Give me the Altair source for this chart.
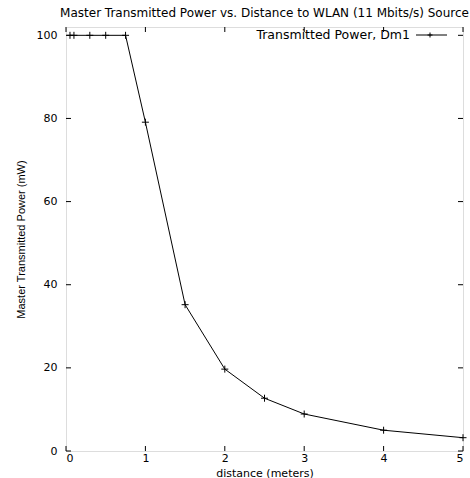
import altair as alt
import pandas as pd

distance = [0.05, 0.1, 0.3, 0.5, 0.75, 1, 1.5, 2, 2.5, 3, 4, 5]
power = [100, 100, 100, 100, 100, 79.1, 35.2, 19.7, 12.7, 8.9, 5.0, 3.2]
x_ticks = [0, 1, 2, 3, 4, 5]
y_ticks = [0, 20, 40, 60, 80, 100]
series_name = ["Transmitted Power, Dm1"]
title_text = "Master Transmitted Power vs. Distance to WLAN (11 Mbits/s) Source"

W, H = 397, 424
FONT = "DejaVu Sans"
FONT2 = "Liberation Sans"
CROSS = "M-1,0L1,0M0,-1L0,1"

df = pd.DataFrame({"distance": distance, "power": power})
xs = alt.Scale(domain=[0, 5], nice=False, zero=False)
ys = alt.Scale(domain=[0, 102], nice=False)

base = alt.Chart(df)

line = base.mark_line(color="black", strokeWidth=1).encode(
    x=alt.X("distance:Q", scale=xs,
            axis=alt.Axis(values=x_ticks, format="d", ticks=False, domain=False, grid=False,
                          labelFont=FONT, labelFontSize=11, labelColor="black",
                          labelPadding=1, title="distance (meters)",
                          titleFont=FONT, titleFontSize=11, titleFontWeight="normal",
                          titleColor="black", titleY=22, titleBaseline="middle")),
    y=alt.Y("power:Q", scale=ys,
            axis=alt.Axis(values=y_ticks, format="d", ticks=False, domain=False, grid=False,
                          labelFont=FONT, labelFontSize=11, labelColor="black",
                          labelPadding=9, title="Master Transmitted Power (mW)",
                          titleFont=FONT2, titleFontSize=11, titleFontWeight="normal",
                          titleColor="black", titlePadding=10)),
)

pts = base.mark_point(shape=CROSS, size=49, color="black", strokeWidth=1, filled=False, opacity=1).encode(
    x=alt.X("distance:Q", scale=xs), y=alt.Y("power:Q", scale=ys)
)

xt = pd.DataFrame({"t": x_ticks})
yt = pd.DataFrame({"t": y_ticks})
TL = 5
tick_bottom = alt.Chart(xt).mark_rule(color="black").encode(
    x=alt.X("t:Q", scale=xs), y=alt.value(H), y2=alt.value(H - TL))
tick_top = alt.Chart(xt).mark_rule(color="black").encode(
    x=alt.X("t:Q", scale=xs), y=alt.value(0), y2=alt.value(TL))
tick_left = alt.Chart(yt).mark_rule(color="black").encode(
    y=alt.Y("t:Q", scale=ys), x=alt.value(0), x2=alt.value(TL))
tick_right = alt.Chart(yt).mark_rule(color="black").encode(
    y=alt.Y("t:Q", scale=ys), x=alt.value(W), x2=alt.value(W - TL))

leg = pd.DataFrame({"name": series_name})
LY = 8
leg_text = alt.Chart(leg).mark_text(align="right", baseline="middle", font=FONT, fontSize=12.5, color="black").encode(
    text="name:N", x=alt.value(344), y=alt.value(LY))
leg_line = alt.Chart(leg).mark_rule(color="black", strokeWidth=1).encode(
    x=alt.value(350), x2=alt.value(381), y=alt.value(LY))
leg_pt = alt.Chart(leg).mark_point(shape=CROSS, size=25, color="black", strokeWidth=1, filled=False, opacity=1).encode(
    x=alt.value(364), y=alt.value(LY))

chart = alt.layer(
    tick_bottom, tick_top, tick_left, tick_right, line, pts, leg_line, leg_pt, leg_text
).properties(
    width=W, height=H,
    title=alt.TitleParams(title_text, font=FONT, fontSize=12, fontWeight="normal",
                          color="black", anchor="middle", offset=7),
    autosize=alt.AutoSizeParams(type="none"),
    padding={"left": 66, "top": 27, "right": 7, "bottom": 27},
).configure_view(stroke="black", strokeWidth=1.5).configure(background="white")

chart.save("out.html", embed_options={"renderer": "svg", "actions": False})
